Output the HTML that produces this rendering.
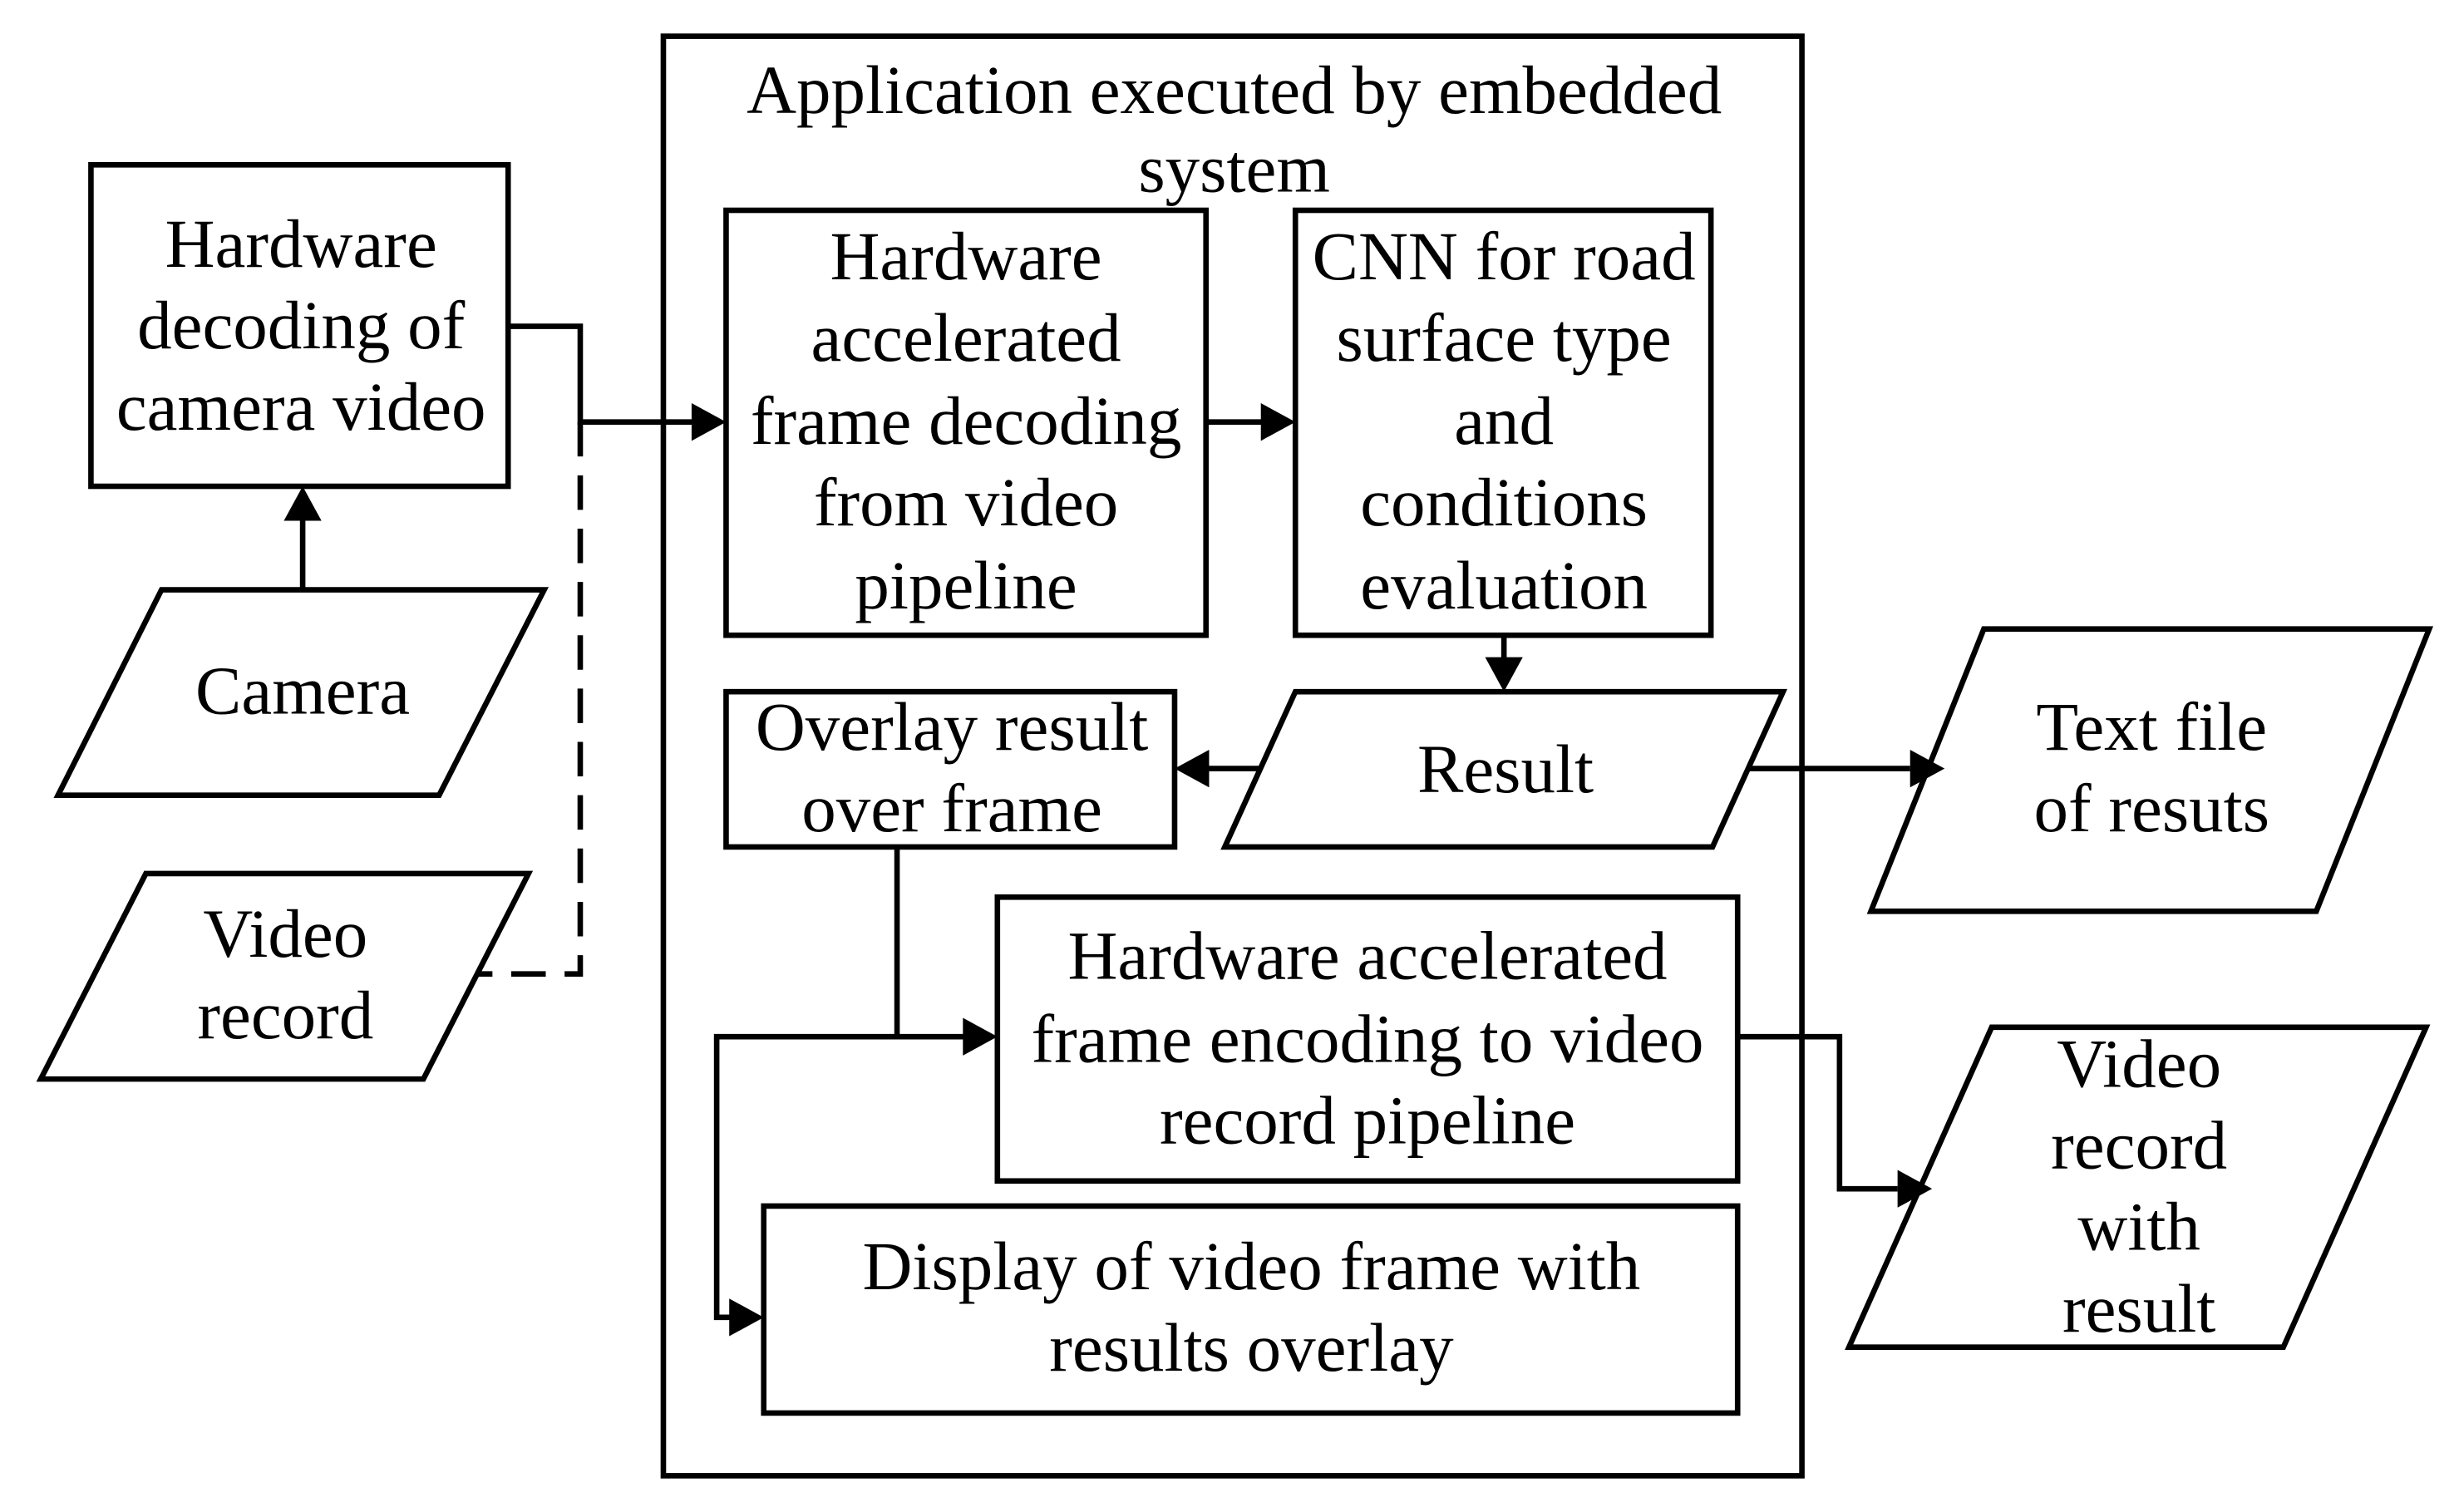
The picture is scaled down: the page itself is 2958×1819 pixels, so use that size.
<!DOCTYPE html>
<html><head><meta charset="utf-8"><style>
html,body{margin:0;padding:0;background:#fff;}
svg{display:block;}
text{font-family:"Liberation Serif",serif;font-size:44px;fill:#000;text-anchor:middle;}
</style></head><body>
<svg width="2958" height="1819" viewBox="0 0 1568 964" xmlns="http://www.w3.org/2000/svg">
<g fill="none" stroke="#000" stroke-width="3.5">
<rect x="423" y="23" width="726" height="918"/>
<rect x="58" y="105" width="266" height="205"/>
<polygon points="103,376 347,376 280,507 37,507"/>
<polygon points="93,557 337,557 270,688 26,688"/>
<rect x="463" y="134" width="306" height="271"/>
<rect x="826" y="134" width="265" height="271"/>
<polygon points="826,441 1137,441 1092,540 781,540"/>
<rect x="463" y="441" width="286" height="99"/>
<polygon points="1265,401 1549,401 1477,581 1193,581"/>
<rect x="636" y="572" width="472" height="181"/>
<rect x="487" y="769" width="621" height="132"/>
<polygon points="1270,655 1547,655 1456,859 1179,859"/>
<line x1="193" y1="376" x2="193" y2="330"/>
<polyline points="324,208 370,208 370,269 442,269"/>
<polyline points="370,269 370,621 305,621" stroke-dasharray="22,12"/>
<line x1="769" y1="269" x2="806" y2="269"/>
<line x1="959" y1="405" x2="959" y2="422"/>
<line x1="803" y1="490" x2="769" y2="490"/>
<line x1="1114" y1="490" x2="1218" y2="490"/>
<line x1="572" y1="540" x2="572" y2="661"/>
<polyline points="616,661 457,661 457,840 467,840"/>
<polyline points="1108,661 1173,661 1173,758 1210,758"/>
</g>
<g fill="#000">
<polygon points="193,310 181,332 205,332"/>
<polygon points="463,269 441,257 441,281"/>
<polygon points="826,269 804,257 804,281"/>
<polygon points="959,441 947,419 971,419"/>
<polygon points="749,490 771,478 771,502"/>
<polygon points="1240,490 1218,478 1218,502"/>
<polygon points="636,661 614,649 614,673"/>
<polygon points="487,840 465,828 465,852"/>
<polygon points="1232,758 1210,746 1210,770"/>
</g>
<text x="787" y="72">Application executed by embedded</text>
<text x="787" y="122">system</text>
<text x="192" y="170">Hardware</text>
<text x="192" y="222">decoding of</text>
<text x="192" y="274">camera video</text>
<text x="193" y="455">Camera</text>
<text x="182" y="610">Video</text>
<text x="182" y="662">record</text>
<text x="616" y="178">Hardware</text>
<text x="616" y="230">accelerated</text>
<text x="616" y="283">frame decoding</text>
<text x="616" y="335">from video</text>
<text x="616" y="388">pipeline</text>
<text x="959" y="178">CNN for road</text>
<text x="959" y="230">surface type</text>
<text x="959" y="283">and</text>
<text x="959" y="335">conditions</text>
<text x="959" y="388">evaluation</text>
<text x="960" y="505">Result</text>
<text x="607" y="478">Overlay result</text>
<text x="607" y="530">over frame</text>
<text x="1372" y="478">Text file</text>
<text x="1372" y="530">of resuts</text>
<text x="872" y="624">Hardware accelerated</text>
<text x="872" y="677">frame encoding to video</text>
<text x="872" y="729">record pipeline</text>
<text x="798" y="822">Display of video frame with</text>
<text x="798" y="874">results overlay</text>
<text x="1364" y="693">Video</text>
<text x="1364" y="745">record</text>
<text x="1364" y="797">with</text>
<text x="1364" y="849">result</text>
</svg>
</body></html>
